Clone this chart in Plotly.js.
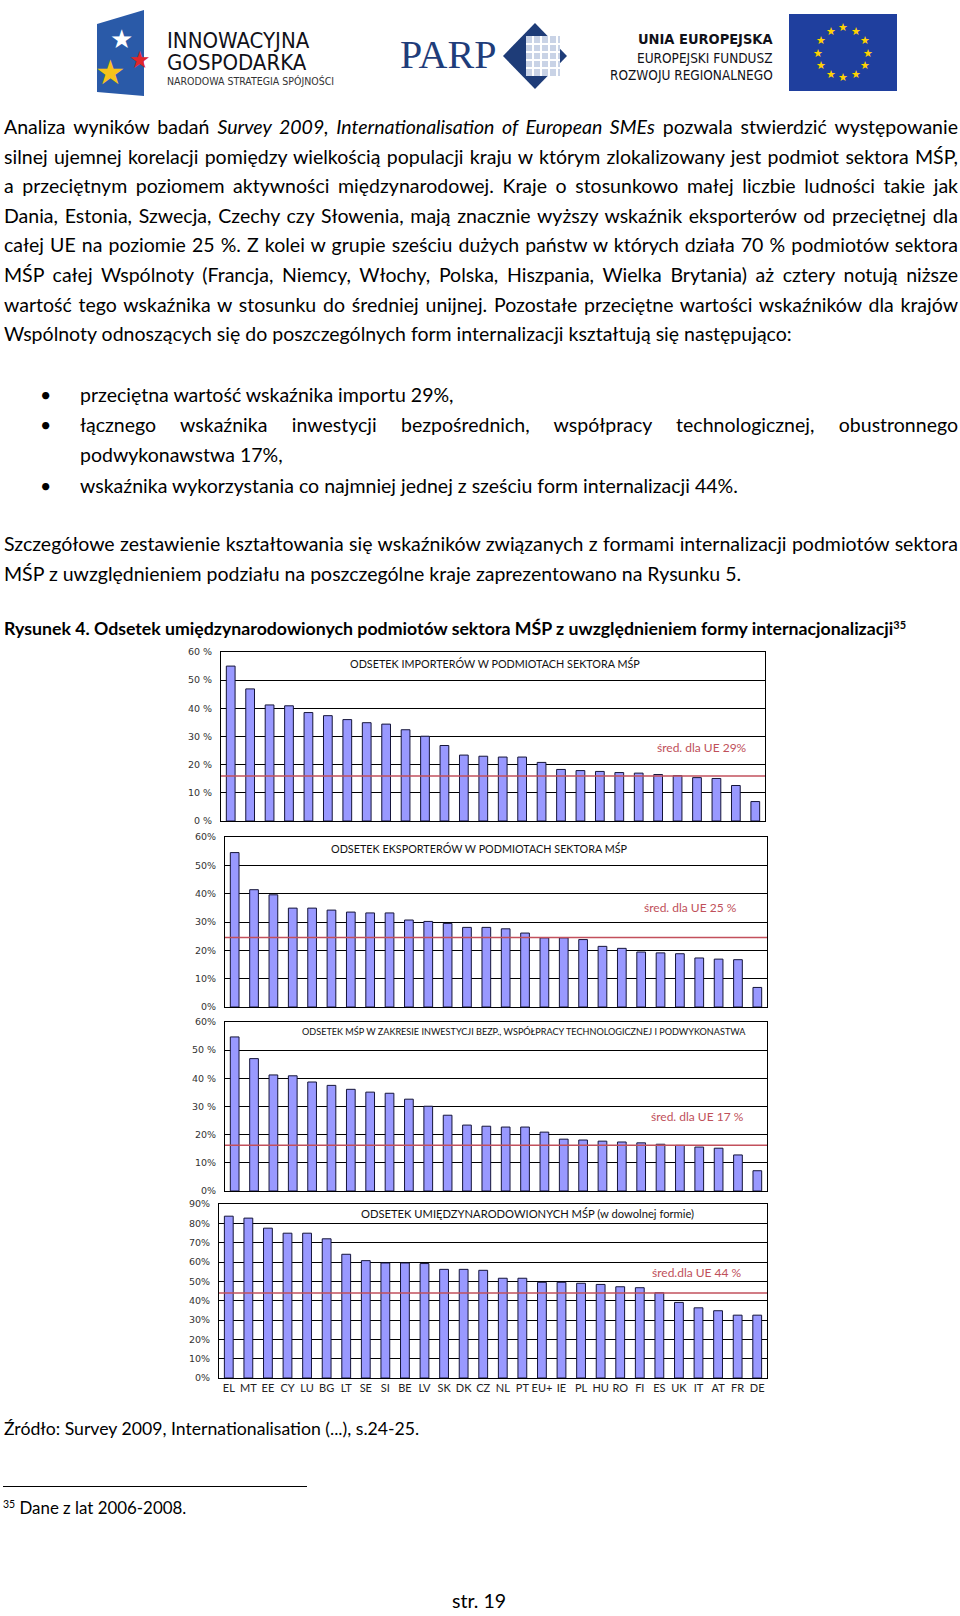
<!DOCTYPE html>
<html><head><meta charset="utf-8">
<script src="https://cdn.plot.ly/plotly-3.0.1.min.js"></script>
<style>
body{margin:0;background:#fff}
#page{position:relative;width:960px;height:1616px;overflow:hidden;font-family:Lato,'Open Sans',sans-serif;color:#000}
#plot{position:absolute;left:0;top:0;width:960px;height:1616px}
.ln{position:absolute;white-space:nowrap;line-height:30px}
.j{text-align:justify;text-align-last:justify;white-space:normal}
sup{font-size:0.62em;line-height:0;vertical-align:0.55em}
</style></head><body><div id="page"><div id="plot"></div></div>
<script>
// ---------------- DATA ----------------
const countries = ["EL","MT","EE","CY","LU","BG","LT","SE","SI","BE","LV","SK","DK","CZ","NL","PT","EU+","IE","PL","HU","RO","FI","ES","UK","IT","AT","FR","DE"];
const importers = [55.0,46.9,41.2,40.9,38.5,37.4,36.0,34.9,34.4,32.4,30.1,26.8,23.4,23.0,22.7,22.7,20.8,18.3,17.9,17.6,17.2,17.0,16.5,16.1,15.4,15.1,12.6,6.9];
const exporters = [54.5,41.4,39.6,34.9,34.9,34.2,33.5,33.2,33.2,30.7,30.2,29.5,28.1,28.1,27.6,26.1,24.4,24.4,23.8,21.4,20.7,19.4,19.1,18.8,17.3,16.9,16.7,6.9];
const cooperation = [54.7,47.0,41.2,40.9,38.7,37.5,36.1,35.1,34.7,32.6,30.1,26.9,23.4,23.0,22.7,22.7,20.9,18.4,18.1,17.7,17.4,17.1,16.6,16.2,15.6,15.2,12.8,7.2];
const anyForm = [83.7,82.7,77.5,74.9,74.9,72.0,64.0,60.7,59.5,59.5,59.2,56.2,56.2,55.7,51.6,51.6,49.5,49.5,49.0,48.4,47.2,46.7,44.1,39.1,36.3,34.8,32.5,32.5];
const avgLine = [16.0, 24.5, 16.2, 44.0];
const avgLabels = ["śred. dla UE 29%","śred. dla UE 25 %","śred. dla UE 17 %","śred.dla UE 44 %"];
const panelTitles = [
  "ODSETEK IMPORTERÓW W PODMIOTACH SEKTORA MŚP",
  "ODSETEK EKSPORTERÓW W PODMIOTACH SEKTORA MŚP",
  "ODSETEK MŚP W ZAKRESIE INWESTYCJI BEZP., WSPÓŁPRACY TECHNOLOGICZNEJ I PODWYKONASTWA",
  "ODSETEK UMIĘDZYNARODOWIONYCH MŚP (w dowolnej formie)"
];
const tickVals60 = [0,10,20,30,40,50,60];
const tickVals90 = [0,10,20,30,40,50,60,70,80,90];
const tickText1 = ["0 %","10 %","20 %","30 %","40 %","50 %","60 %"];
const tickText2 = ["0%","10%","20%","30%","40%","50%","60%"];
const tickText3 = ["0%","10%","20%","30 %","40 %","50 %","60%"];
const tickText4 = ["0%","10%","20%","30%","40%","50%","60%","70%","80%","90%"];

// ---------------- LAYOUT HELPERS ----------------
const W = 960, H = 1616;
const px = x => x / W, py = y => 1 - y / H;
function path(pts){ return 'M' + pts.map(p => px(p[0]).toFixed(5) + ',' + py(p[1]).toFixed(5)).join('L') + 'Z'; }

const ranks = importers.map((_, i) => String(i + 1));
const panels = [
  {vals: importers,   ticks: tickVals60, text: tickText1, max: 60, box: [221, 765, 652, 821], title: [495, 663, 10.8], avg: [702, 747]},
  {vals: exporters,   ticks: tickVals60, text: tickText2, max: 60, box: [225, 767, 837, 1007], title: [479, 848, 10.8], avg: [690, 907]},
  {vals: cooperation, ticks: tickVals60, text: tickText3, max: 60, box: [225, 767, 1022, 1191], title: [524, 1031, 9.1], avg: [697, 1116]},
  {vals: anyForm,     ticks: tickVals90, text: tickText4, max: 90, box: [219, 767, 1204, 1378], title: [527, 1213, 11.2], avg: [697, 1272]}
];

const data = [], shapes = [], annotations = [];
const layout = {
  width: W, height: H, margin: {l:0, r:0, t:0, b:0},
  paper_bgcolor: 'rgba(0,0,0,0)', plot_bgcolor: '#fff',
  showlegend: false, bargap: 0.55, hovermode: false,
  font: {family: 'Lato, sans-serif', color: '#000'}
};

panels.forEach((p, k) => {
  const n = k + 1, xs = n === 1 ? '' : String(n);
  const [L, R, T, B] = p.box;
  const last = n === 4;
  layout['xaxis' + xs] = {
    domain: [px(L), px(R)], anchor: 'y' + xs, type: 'category',
    showticklabels: last, ticks: '', tickangle: 0, showgrid: false, zeroline: false,
    showline: true, mirror: true, linecolor: '#000', linewidth: 1,
    tickfont: {family: 'Lato, sans-serif', size: 11, color: '#222'}, fixedrange: true
  };
  layout['yaxis' + xs] = {
    domain: [py(B), py(T)], anchor: 'x' + xs, range: [0, p.max],
    tickvals: p.ticks, ticktext: p.text, ticks: '', ticklabelstandoff: 6,
    showgrid: true, gridcolor: '#000', gridwidth: 1, zeroline: false,
    showline: true, mirror: true, linecolor: '#000', linewidth: 1,
    tickfont: {family: 'DejaVu Sans, sans-serif', size: 9.5, color: '#333'}, fixedrange: true
  };
  data.push({
    type: 'bar', x: last ? countries : ranks, y: p.vals,
    xaxis: 'x' + xs, yaxis: 'y' + xs,
    marker: {color: '#9999ff', line: {color: '#15153a', width: 1}},
    hoverinfo: 'none'
  });
  shapes.push({type: 'line', xref: 'x' + xs + ' domain', yref: 'y' + xs, x0: 0, x1: 1,
    y0: avgLine[k], y1: avgLine[k], line: {color: '#c2505c', width: 1.5}, layer: 'above'});
  annotations.push({xref: 'paper', yref: 'paper', x: px(p.title[0]), y: py(p.title[1]),
    xanchor: 'center', yanchor: 'middle',
    text: panelTitles[k], showarrow: false, font: {family: 'Lato, sans-serif', size: p.title[2], color: '#111'}});
  annotations.push({xref: 'paper', yref: 'paper', x: px(p.avg[0]), y: py(p.avg[1]),
    xanchor: 'center', yanchor: 'middle',
    text: avgLabels[k], showarrow: false, font: {family: 'Lato, sans-serif', size: 12, color: '#c0505a'}});
});

// ---------------- HEADER LOGOS (decoration) ----------------
function note(x, y, text, size, color, family, xanchor){
  annotations.push({xref:'paper', yref:'paper', x:px(x), y:py(y), text:text, showarrow:false,
    xanchor: xanchor || 'center', yanchor:'middle',
    font:{size:size, color:color, family:family || 'Lato, sans-serif'}});
}
const cond = "'DejaVu Sans Condensed', Roboto, sans-serif";
// Innowacyjna Gospodarka
shapes.push({type:'path', xref:'paper', yref:'paper', path: path([[97,24],[144,10],[144,96],[97,92]]), fillcolor:'#2a5aa8', line:{width:0}});
note(121, 38, '★', 26, '#ffffff');
note(140, 58, '★', 24, '#e0262b');
note(110, 70, '★', 34, '#f5c21b');
note(165, 41, 'INNOWACYJNA', 22, '#111118', cond, 'left');
note(165, 63, 'GOSPODARKA', 22, '#111118', cond, 'left');
note(165, 81, 'NARODOWA STRATEGIA SPÓJNOŚCI', 10.5, '#333', cond, 'left');
// PARP
note(448, 55, 'PARP', 40, '#1f3d7a', "'Liberation Serif', serif");
shapes.push({type:'path', xref:'paper', yref:'paper', path: path([[503,56],[535,23],[567,56],[535,89]]), fillcolor:'#1e3c78', line:{width:0}});
[[526,36,545,76],[545,36,560,76]].forEach(r => shapes.push({type:'rect', xref:'paper', yref:'paper', x0:px(r[0]), x1:px(r[2]), y0:py(r[3]), y1:py(r[1]), fillcolor:'#c9d3e6', line:{width:0}}));
[533,541,549,557].forEach(x => shapes.push({type:'line', xref:'paper', yref:'paper', x0:px(x), x1:px(x), y0:py(36), y1:py(76), line:{color:'#ffffff', width:2}}));
[44,52,60,68].forEach(y => shapes.push({type:'line', xref:'paper', yref:'paper', x0:px(526), x1:px(560), y0:py(y), y1:py(y), line:{color:'#ffffff', width:2}}));
// UE
note(775, 39, '<b>UNIA EUROPEJSKA</b>', 14.5, '#111118', cond, 'right');
note(775, 58, 'EUROPEJSKI FUNDUSZ', 13.5, '#111118', cond, 'right');
note(775, 75, 'ROZWOJU REGIONALNEGO', 13.5, '#111118', cond, 'right');
shapes.push({type:'rect', xref:'paper', yref:'paper', x0:px(789), x1:px(897), y0:py(91), y1:py(14), fillcolor:'#1f3f9e', line:{width:0}});
for (let k = 0; k < 12; k++) {
  const a = k * Math.PI / 6;
  note(843 + 25 * Math.sin(a), 52 - 25 * Math.cos(a), '★', 11, '#ffd200');
}

layout.shapes = shapes;
layout.annotations = annotations;
Plotly.newPlot('plot', data, layout, {displayModeBar: false, staticPlot: true});

// ---------------- TEXT ----------------
const page = document.getElementById('page');
const cv = document.createElement('canvas').getContext('2d');
function measure(s, size, weight){ cv.font = (weight||'normal') + ' ' + size + 'px Lato'; return cv.measureText(s).width; }
const refs = [
  ["Wspólnoty odnoszących się do poszczególnych form internalizacji kształtują się następująco:", 790],
  ["MŚP z uwzględnieniem podziału na poszczególne kraje zaprezentowano na Rysunku 5.", 737]
];
const fs = refs.reduce((s, r) => s + 20 * r[1] / measure(r[0], 20), 0) / refs.length;
const srcText = "Źródło: Survey 2009, Internationalisation (...), s.24-25.";
const fsSrc = Math.min(fs, 20 * 416 / measure(srcText, 20));
const capText = "Rysunek 4. Odsetek umiędzynarodowionych podmiotów sektora MŚP z uwzględnieniem formy internacjonalizacji";
const fsCap = 20 * 891 / measure(capText, 20, 'bold');
const fsFoot = 20 * 167 / measure("Dane z lat 2006-2008.", 20);

function line(html, left, width, cy, o){
  o = o || {};
  const d = document.createElement('div');
  d.className = 'ln' + (o.j ? ' j' : '');
  d.style.left = left + 'px';
  if (width) d.style.width = width + 'px';
  d.style.top = (cy - 15) + 'px';
  let size = o.size || fs;
  d.style.fontSize = size + 'px';
  if (o.b) d.style.fontWeight = 'bold';
  d.innerHTML = html;
  page.appendChild(d);
  if (o.j) { while (d.getBoundingClientRect().height > 32 && size > 8) { size -= 0.1; d.style.fontSize = size + 'px'; } }
  return d;
}
const LX = 4, RW = 954, LH = 29.6;
const p1 = [
  "Analiza wyników badań <i>Survey 2009, Internationalisation of European SMEs</i> pozwala stwierdzić występowanie",
  "silnej ujemnej korelacji pomiędzy wielkością populacji kraju w którym zlokalizowany jest podmiot sektora MŚP,",
  "a przeciętnym poziomem aktywności międzynarodowej. Kraje o stosunkowo małej liczbie ludności takie jak",
  "Dania, Estonia, Szwecja, Czechy czy Słowenia, mają znacznie wyższy wskaźnik eksporterów od przeciętnej dla",
  "całej UE na poziomie 25 %. Z kolei w grupie sześciu dużych państw w których działa 70 % podmiotów sektora",
  "MŚP całej Wspólnoty (Francja, Niemcy, Włochy, Polska, Hiszpania, Wielka Brytania) aż cztery notują niższe",
  "wartość tego wskaźnika w stosunku do średniej unijnej. Pozostałe przeciętne wartości wskaźników dla krajów",
  "Wspólnoty odnoszących się do poszczególnych form internalizacji kształtują się następująco:"
];
p1.forEach((t, i) => line(t, LX, RW, 127 + i * LH, {j: i < p1.length - 1}));

const bullets = [
  [395, "przeciętna wartość wskaźnika importu 29%,", false, true],
  [425, "łącznego wskaźnika inwestycji bezpośrednich, współpracy technologicznej, obustronnego", true, true],
  [455, "podwykonawstwa 17%,", false, false],
  [486, "wskaźnika wykorzystania co najmniej jednej z sześciu form internalizacji 44%.", false, true]
];
bullets.forEach(b => {
  if (b[3]) line("•", 40, 0, b[0], {});
  line(b[1], 80, 958 - 80, b[0], {j: b[2]});
});
line("Szczegółowe zestawienie kształtowania się wskaźników związanych z formami internalizacji podmiotów sektora", LX, RW, 544, {j: true});
line("MŚP z uwzględnieniem podziału na poszczególne kraje zaprezentowano na Rysunku 5.", LX, 0, 574, {});
line(capText + "<sup>35</sup>", LX, 0, 629, {b: true, size: fsCap});
line(srcText, LX, 0, 1429, {size: fsSrc});
const hr = document.createElement('div');
hr.style.cssText = 'position:absolute;left:3px;top:1486px;width:304px;height:1px;background:#000';
page.appendChild(hr);
line("<sup>35</sup> Dane z lat 2006-2008.", 3, 0, 1508, {size: fsFoot});
line("str. 19", 452, 0, 1601, {});
</script></body></html>
